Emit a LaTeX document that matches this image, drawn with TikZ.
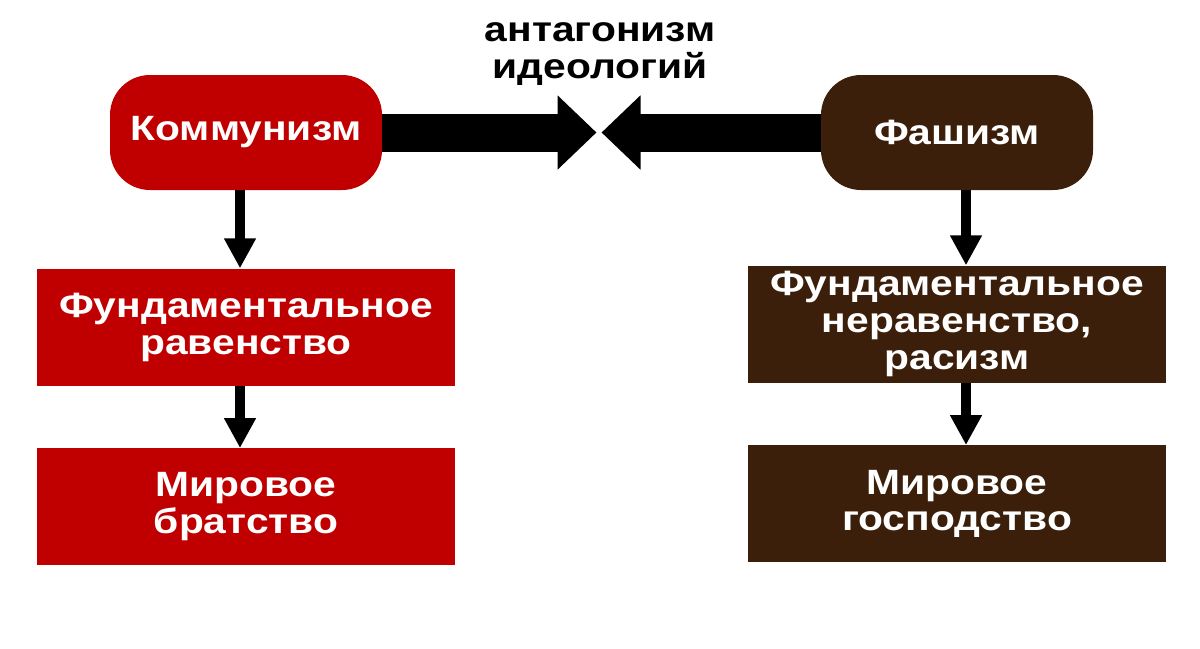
\documentclass[tikz,border=0pt]{standalone}
\usepackage{fontspec}
\setmainfont{Liberation Sans}[FakeStretch=1.16]
\usepackage{xcolor}
\usetikzlibrary{arrows.meta,positioning}
\definecolor{kred}{RGB}{192,0,0}
\definecolor{fbrown}{RGB}{59,31,10}

\begin{document}
\begin{tikzpicture}[font=\bfseries\fontsize{20}{21}\selectfont,
				>={Triangle[length=0.6cm,width=0.6cm]},
				head/.style={rounded corners=0.8cm,minimum width=5.44cm,minimum height=2.3cm,inner sep=0pt,text=white},
				box/.style={minimum width=8.36cm,minimum height=2.34cm,inner sep=0pt,align=center,text=white},
				down/.style={->,line width=0.2cm},
				clash/.style={line width=0.76cm,-{Triangle[length=0.78cm,width=1.44cm]}}]
			%\draw[help lines] (0,0) grid (24,-12.96);
			\useasboundingbox (0,0) rectangle (24,-12.96);

			\node[head,fill=kred]    (komm) at (4.92,-2.65)  {Коммунизм};
			\node[head,fill=fbrown]  (fash) at (19.14,-2.65) {Фашизм};
			\node[align=center]      (anta) at (12,-1.08)    {антагонизм\\идеологий};
			\coordinate (meetL) at (11.93,-2.65);
			\coordinate (meetR) at (12.03,-2.65);

			\node[box,fill=kred]   (ravn) [below=1.56cm of komm] {Фундаментальное\\равенство};
			\node[box,fill=kred]   (brat) [below=1.24cm of ravn] {Мировое\\братство};
			\node[box,fill=fbrown] (nerv) [below=1.5cm of fash]  {Фундаментальное\\неравенство,\\расизм};
			\node[box,fill=fbrown] (gosp) [below=1.24cm of nerv] {Мировое\\господство};

			\path (komm) edge [clash] (meetL)
			(fash) edge [clash] (meetR)
			([xshift=-0.12cm]komm.south) edge [down] ([xshift=-0.12cm]ravn.north)
			([xshift=-0.12cm]ravn.south) edge [down] ([xshift=-0.12cm]brat.north)
			([xshift=0.18cm]fash.south) edge [down] ([xshift=0.18cm]nerv.north)
			([xshift=0.18cm]nerv.south) edge [down] ([xshift=0.18cm]gosp.north);
		\end{tikzpicture}
\end{document}
